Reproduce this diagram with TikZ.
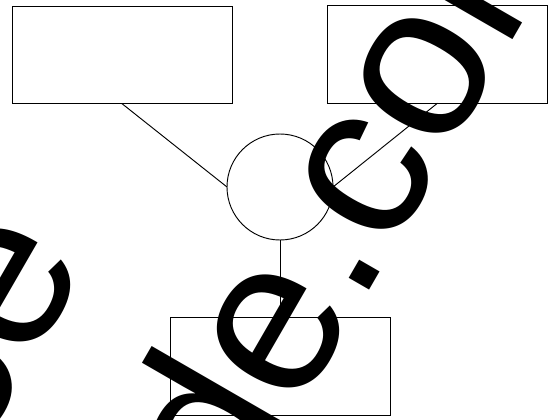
\documentclass[tikz,border=0pt]{standalone}
\usepackage{fontspec}
\setmainfont{Liberation Sans}
\usetikzlibrary{shadows}
\begin{document}
\begin{tikzpicture}[x=0.03cm, y=-0.03cm, line width=0.8pt,
  box/.style={draw, fill=white, inner sep=0pt, outer sep=0pt, minimum width=6.6cm, minimum height=2.92cm,
    drop shadow={shadow xshift=0.5pt, shadow yshift=-0.7pt, opacity=0.3}},
  mark text/.style={inner sep=0pt, outer sep=0pt, anchor=base, rotate=60, font=\fontsize{188}{225}\selectfont}]
\useasboundingbox (0,0) rectangle (556,420);
\clip (0,0) rectangle (556,420);
\node[box] (tl) at (122,55) {};
\node[box] (tr) at (437.5,54.5) {};
\node[box] (bot) at (280,366.5) {};
\node[draw, fill=white, circle, inner sep=0pt, outer sep=0pt, minimum size=3.18cm] (hub) at (280,187) {};
\draw (tl.south) -- (hub.west);
\draw (tr.south) -- (hub.east);
\draw (hub.south) -- (bot.north);
% big lettering over the figure
\node[mark text] (t1) at (32,362) {ce};
\node[mark text] (t2) at (383.5,265) {de.col};
\end{tikzpicture}
\end{document}
